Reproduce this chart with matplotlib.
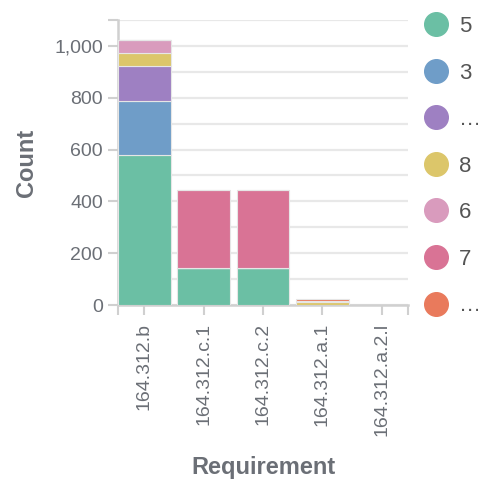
import numpy as np
import matplotlib.pyplot as plt
from matplotlib.lines import Line2D
from matplotlib.ticker import FuncFormatter

# categories on the x axis
REQS = ["164.312.b", "164.312.c.1", "164.312.c.2", "164.312.a.1", "164.312.a.2.l"]

# stacked series, bottom to top
LEGEND_LABELS = ["5", "3", "\u2026", "8", "6", "7", "\u2026"]
s_5      = [580, 142, 142, 0, 0]
s_3      = [207, 0, 0, 0, 0]
s_more1  = [137, 0, 0, 0, 0]
s_8      = [50, 0, 0, 10, 0]
s_6      = [50, 0, 0, 7, 0]
s_7      = [0, 303, 303, 0, 0]
s_more2  = [0, 0, 0, 6, 1]

SERIES = [s_5, s_3, s_more1, s_8, s_6, s_7, s_more2]
COLORS = ["#6bbfa4", "#6f9dc8", "#9e80c2", "#dcc66a", "#d99bbd", "#d97395", "#e97a5c"]

plt.rcParams['font.family'] = ['Liberation Sans', 'DejaVu Sans']
TXT = '#6b6f76'
AX = '#d0d0d0'

fig = plt.figure(figsize=(4.78, 4.8), dpi=100)
ax = fig.add_axes([118.3/478, 1 - 305/480, 290/478, 285/480])

x = np.arange(len(REQS))
bottom = np.zeros(len(REQS))
for vals, col in zip(SERIES, COLORS):
    vals = np.array(vals, dtype=float)
    ax.bar(x, vals, bottom=bottom, width=0.89, color=col, edgecolor='#e6e6e6', linewidth=0.8, zorder=3)
    bottom += vals

ax.set_xlim(-0.44, 4.45)
ax.set_ylim(0, 1100)

# gridlines every 100, labels every 200
ax.set_yticks(np.arange(0, 1101, 100), minor=True)
ax.set_yticks([0, 200, 400, 600, 800, 1000, 1100])
ax.yaxis.set_major_formatter(FuncFormatter(lambda v, p: '' if v > 1000 else f'{int(v):,}'))
ax.grid(axis='y', which='both', color='#e8e8e8', linewidth=1.6, zorder=0)
ax.tick_params(axis='y', which='minor', length=0)

ax.set_xticks(x)
ax.set_xticklabels(REQS, rotation=90, ha='center', va='top')
ax.set_xticks([-0.44, 4.45], minor=True)
ax.tick_params(axis='x', which='minor', length=7, width=1.5, color=AX)

ax.tick_params(axis='both', which='major', length=7, width=1.5, color=AX,
               labelcolor=TXT, labelsize=14, pad=4)
ax.tick_params(axis='x', which='major', pad=6)

for side in ['top', 'right']:
    ax.spines[side].set_visible(False)
for side in ['left', 'bottom']:
    ax.spines[side].set_color(AX)
    ax.spines[side].set_linewidth(1.8)

ax.set_ylabel('Count', fontsize=17, fontweight='bold', color=TXT, labelpad=12)
ax.set_xlabel('Requirement', fontsize=17, fontweight='bold', color=TXT, labelpad=14)

handles = [Line2D([], [], marker='o', linestyle='none', markersize=17,
                  markerfacecolor=c, markeredgecolor=c) for c in COLORS]
fig.legend(handles, LEGEND_LABELS, loc='upper left', bbox_to_anchor=(422.5/478, 1 - 16/480),
           frameon=False, fontsize=16, labelcolor='#555555', handlelength=1.2,
           handletextpad=0.45, labelspacing=1.15, borderpad=0, borderaxespad=0)

fig.savefig('out.png', dpi=100)
